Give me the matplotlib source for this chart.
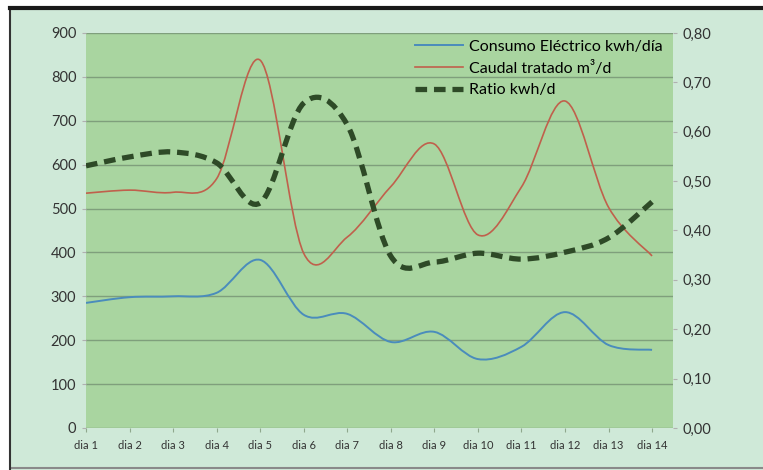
import matplotlib
matplotlib.use('Agg')
from matplotlib import pyplot as plt
from matplotlib.path import Path
from matplotlib.patches import PathPatch
from matplotlib.lines import Line2D
from matplotlib.ticker import FuncFormatter

dias = ['dia 1', 'dia 2', 'dia 3', 'dia 4', 'dia 5', 'dia 6', 'dia 7',
        'dia 8', 'dia 9', 'dia 10', 'dia 11', 'dia 12', 'dia 13', 'dia 14']
consumo = [285, 298, 300, 308, 383, 258, 260, 196, 219, 157, 185, 264, 189, 178]
caudal = [535, 542, 537, 568, 838, 398, 435, 550, 647, 440, 549, 745, 503, 392]
ratio = [0.531, 0.549, 0.559, 0.537, 0.456, 0.658, 0.614, 0.348, 0.336, 0.354,
         0.342, 0.356, 0.385, 0.458]

x = list(range(1, len(dias) + 1))


def smooth_path(xs, ys):
    # Excel-like smoothed line: Catmull-Rom segments as cubic Bezier curves
    n = len(xs)
    verts = [(xs[0], ys[0])]
    codes = [Path.MOVETO]
    for i in range(n - 1):
        x0, y0 = (xs[i - 1], ys[i - 1]) if i > 0 else (xs[i], ys[i])
        x1, y1 = xs[i], ys[i]
        x2, y2 = xs[i + 1], ys[i + 1]
        x3, y3 = (xs[i + 2], ys[i + 2]) if i + 2 < n else (x2, y2)
        c1 = (x1 + (x2 - x0) / 6, y1 + (y2 - y0) / 6)
        c2 = (x2 - (x3 - x1) / 6, y2 - (y3 - y1) / 6)
        verts += [c1, c2, (x2, y2)]
        codes += [Path.CURVE4] * 3
    return Path(verts, codes)


fig = plt.figure(figsize=(7.63, 4.70), dpi=100, facecolor='white')
plt.rcParams['font.family'] = ['Lato', 'DejaVu Sans']

# outer chart background with dark border lines
bg = fig.add_axes([0.013, 0.0, 0.987, 0.983])
bg.set_facecolor('#cfe9d8')
bg.set_xticks([])
bg.set_yticks([])
for side in ['right', 'bottom']:
    bg.spines[side].set_visible(False)
bg.spines['top'].set_color('#1a1a1a')
bg.spines['top'].set_linewidth(3)
bg.spines['left'].set_color('#333333')
bg.spines['left'].set_linewidth(1.5)
bg.axhline(0.005, color='#8a8a8a', lw=1.5)

ax = fig.add_axes([0.1127, 0.0894, 0.7693, 0.8404])
ax.set_facecolor('#a9d5a0')
ax.set_xlim(1, 14.48)
ax.set_ylim(0, 900)
ax.set_yticks(range(0, 901, 100))
ax.set_xticks(x)
ax.set_xticklabels(dias, fontsize=8, color='#333333')
ax.yaxis.grid(True, color='#7f9f7c', linewidth=1)
ax.set_axisbelow(True)
for s in ax.spines.values():
    s.set_visible(False)
ax.tick_params(axis='y', length=3, color='#b0b0b0', labelsize=10.5,
               labelcolor='#333333', pad=4)
ax.tick_params(axis='x', length=3, color='#8fa88d', pad=6)

ax2 = ax.twinx()
ax2.set_ylim(0, 0.8)
ax2.set_yticks([i / 10 for i in range(9)])
ax2.yaxis.set_major_formatter(FuncFormatter(lambda v, p: ('%.2f' % v).replace('.', ',')))
for s in ax2.spines.values():
    s.set_visible(False)
ax2.tick_params(axis='y', length=3, color='#b0b0b0', labelsize=10.5,
                labelcolor='#333333', pad=4)

ax.add_patch(PathPatch(smooth_path(x, consumo), fill=False, edgecolor='#4a8cbc',
                       linewidth=1.4, transform=ax.transData))
ax.add_patch(PathPatch(smooth_path(x, caudal), fill=False, edgecolor='#c0604c',
                       linewidth=1.2, transform=ax.transData))
ax2.add_patch(PathPatch(smooth_path(x, ratio), fill=False, edgecolor='#2e4a27',
                        linewidth=3.8, linestyle=(0, (2.2, 1.3)),
                        transform=ax2.transData))

handles = [Line2D([], [], color='#4a8cbc', lw=1.4),
           Line2D([], [], color='#c0604c', lw=1.2),
           Line2D([], [], color='#2e4a27', lw=3.8, linestyle=(0, (2.2, 1.3)))]
labels = ['Consumo Eléctrico kwh/día', 'Caudal tratado m³/d', 'Ratio kwh/d']
ax2.legend(handles, labels, loc='upper left', frameon=False, fontsize=11.5,
           handlelength=3.0, handletextpad=0.35, labelspacing=0.45,
           borderaxespad=0.0, bbox_to_anchor=(0.55, 1.0))

plt.savefig('out.png', dpi=100, facecolor=fig.get_facecolor())
